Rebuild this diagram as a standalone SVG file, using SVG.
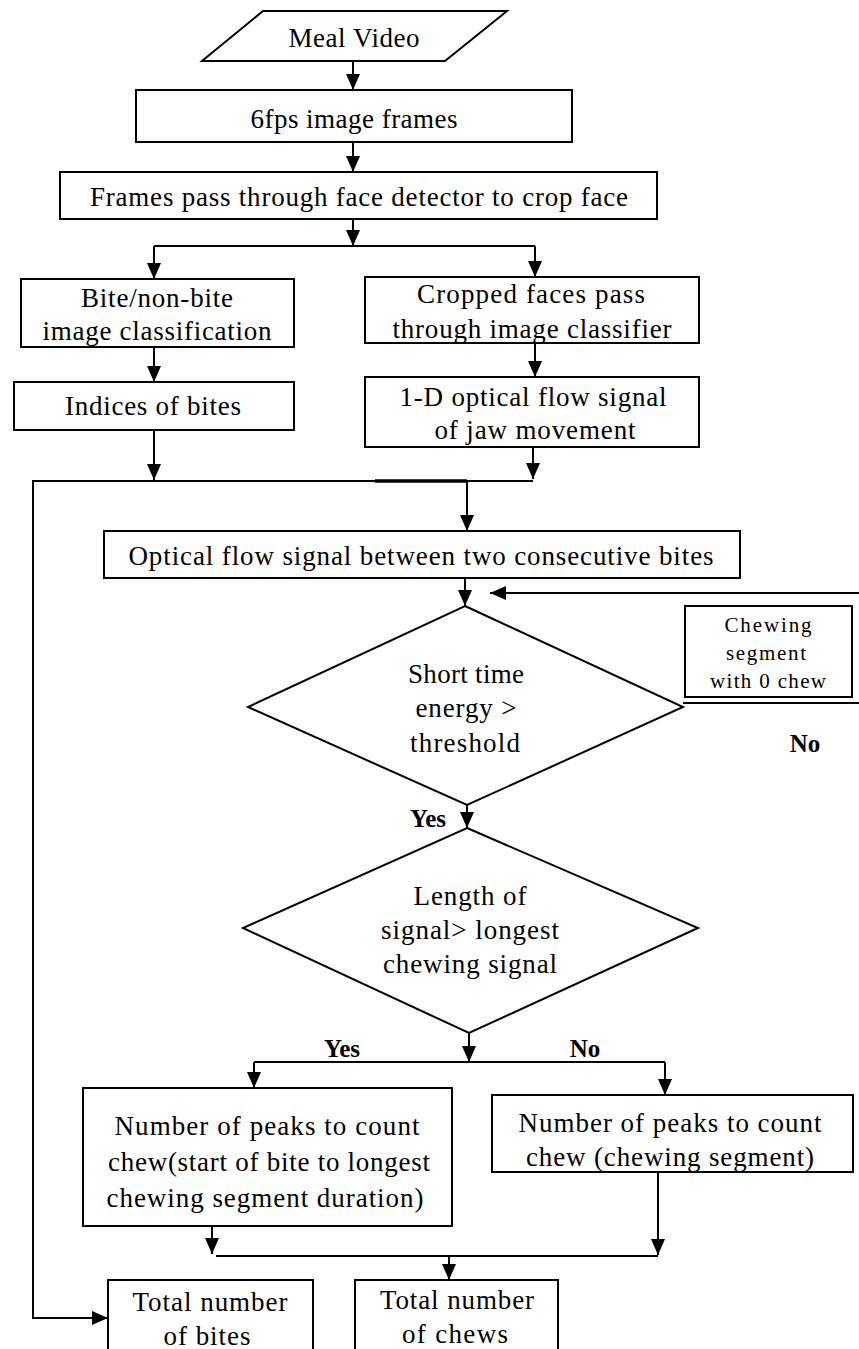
<svg xmlns="http://www.w3.org/2000/svg" width="859" height="1349" viewBox="0 0 859 1349">
<style>
.s{fill:#fff;stroke:#000;stroke-width:2}
.c{fill:none;stroke:#000;stroke-width:2}
.t{font-family:"Liberation Serif","Times New Roman",Tinos,serif;font-size:27px;text-anchor:middle;fill:#000}
.sm{font-size:21px}
.b{font-family:"Liberation Serif","Times New Roman",Tinos,serif;font-size:25px;font-weight:bold;text-anchor:middle;fill:#000}
</style>
<defs>
<marker id="ah" markerUnits="userSpaceOnUse" markerWidth="16" markerHeight="14" refX="16" refY="7" orient="auto">
<path d="M0,0 L16,7 L0,14 z" fill="#000"/>
</marker>
</defs>
<rect width="859" height="1349" fill="#fff"/>

<g id="connectors">
<path class="c" d="M353,61 V90" marker-end="url(#ah)"/>
<path class="c" d="M353,142 V172" marker-end="url(#ah)"/>
<path class="c" d="M353,219 V246" marker-end="url(#ah)"/>
<path class="c" d="M154,246 H535"/>
<path class="c" d="M154,246 V279" marker-end="url(#ah)"/>
<path class="c" d="M535,246 V277" marker-end="url(#ah)"/>
<path class="c" d="M154,347 V382" marker-end="url(#ah)"/>
<path class="c" d="M535,343 V377" marker-end="url(#ah)"/>
<path class="c" d="M154,430 V480" marker-end="url(#ah)"/>
<path class="c" d="M533,447 V479" marker-end="url(#ah)"/>
<path class="c" d="M33,481 H533"/>
<path d="M375,481 H467" stroke="#000" stroke-width="3.5"/>
<path class="c" d="M467,481 V531" marker-end="url(#ah)"/>
<path class="c" d="M465,578 V606" marker-end="url(#ah)"/>
<path class="c" d="M859,593 H490" marker-end="url(#ah)"/>
<path class="c" d="M683,703 H859"/>
<path class="c" d="M467,805 V828" marker-end="url(#ah)"/>
<path class="c" d="M469,1033 V1062" marker-end="url(#ah)"/>
<path class="c" d="M254,1062 H665"/>
<path class="c" d="M254,1062 V1088" marker-end="url(#ah)"/>
<path class="c" d="M665,1062 V1095" marker-end="url(#ah)"/>
<path class="c" d="M212,1226 V1254" marker-end="url(#ah)"/>
<path class="c" d="M658,1172 V1255" marker-end="url(#ah)"/>
<path class="c" d="M216,1256 H658"/>
<path class="c" d="M449,1256 V1280" marker-end="url(#ah)"/>
<path class="c" d="M33,480 V1318 H108" marker-end="url(#ah)"/>
</g>

<g id="meal-video">
<polygon class="s" points="263,11 507,11 445,61 202,61"/>
<text class="t" x="354" y="47" textLength="131" lengthAdjust="spacing">Meal Video</text>
</g>

<g id="frames6fps">
<rect class="s" x="136" y="90" width="436" height="52"/>
<text class="t" x="354" y="128" textLength="207" lengthAdjust="spacing">6fps image  frames</text>
</g>

<g id="face-detector">
<rect class="s" x="60" y="172" width="597" height="47"/>
<text class="t" x="359" y="206" textLength="538" lengthAdjust="spacing">Frames  pass through face detector to crop face</text>
</g>

<g id="bite-classification">
<rect class="s" x="21" y="279" width="273" height="68"/>
<text class="t" x="157" y="307" textLength="152" lengthAdjust="spacing">Bite/non-bite</text>
<text class="t" x="157" y="340" textLength="229" lengthAdjust="spacing">image  classification</text>
</g>

<g id="indices-bites">
<rect class="s" x="14" y="382" width="280" height="48"/>
<text class="t" x="153" y="415" textLength="176" lengthAdjust="spacing">Indices of bites</text>
</g>

<g id="cropped-faces">
<rect class="s" x="365" y="277" width="334" height="66"/>
<text class="t" x="531" y="303" textLength="228" lengthAdjust="spacing">Cropped faces pass</text>
<text class="t" x="532" y="338" textLength="279" lengthAdjust="spacing">through image  classifier</text>
</g>

<g id="optical-flow-1d">
<rect class="s" x="365" y="377" width="334" height="70"/>
<text class="t" x="533" y="406" textLength="267" lengthAdjust="spacing">1-D optical flow  signal</text>
<text class="t" x="535" y="439" textLength="201" lengthAdjust="spacing">of jaw movement</text>
</g>

<g id="optical-flow-between">
<rect class="s" x="104" y="531" width="636" height="47"/>
<text class="t" x="421" y="565" textLength="585" lengthAdjust="spacing">Optical flow  signal between two consecutive bites</text>
</g>

<g id="energy-decision">
<polygon class="s" points="465,606 683,707 467,805 248,707"/>
<text class="t" x="466" y="683" textLength="116" lengthAdjust="spacing">Short time</text>
<text class="t" x="466" y="717" textLength="101" lengthAdjust="spacing">energy &gt;</text>
<text class="t" x="465" y="752" textLength="110" lengthAdjust="spacing">threshold</text>
</g>

<g id="zero-chew">
<rect class="s" x="685" y="606" width="167" height="91"/>
<text class="t sm" x="768" y="632" textLength="87" lengthAdjust="spacing">Chewing</text>
<text class="t sm" x="766" y="660" textLength="80" lengthAdjust="spacing">segment</text>
<text class="t sm" x="768" y="688" textLength="116" lengthAdjust="spacing">with 0 chew</text>
</g>

<g id="labels">
<text class="b" x="805" y="752">No</text>
<text class="b" x="428" y="827">Yes</text>
<text class="b" x="342" y="1057">Yes</text>
<text class="b" x="585" y="1057">No</text>
</g>

<g id="length-decision">
<polygon class="s" points="467,828 698,928 469,1033 243,928"/>
<text class="t" x="470" y="905" textLength="113" lengthAdjust="spacing">Length of</text>
<text class="t" x="470" y="939" textLength="178" lengthAdjust="spacing">signal&gt; longest</text>
<text class="t" x="470" y="973" textLength="174" lengthAdjust="spacing">chewing signal</text>
</g>

<g id="peaks-longest">
<rect class="s" x="83" y="1088" width="369" height="138"/>
<text class="t" x="267" y="1135" textLength="305" lengthAdjust="spacing">Number of peaks to count</text>
<text class="t" x="269" y="1171" textLength="322" lengthAdjust="spacing">chew(start of bite to longest</text>
<text class="t" x="265" y="1207" textLength="317" lengthAdjust="spacing">chewing segment duration)</text>
</g>

<g id="peaks-segment">
<rect class="s" x="492" y="1095" width="361" height="77"/>
<text class="t" x="670" y="1132" textLength="303" lengthAdjust="spacing">Number of peaks to count</text>
<text class="t" x="670" y="1166" textLength="288" lengthAdjust="spacing">chew (chewing segment)</text>
</g>

<g id="total-bites">
<rect class="s" x="108" y="1280" width="205" height="75"/>
<text class="t" x="210" y="1311" textLength="155" lengthAdjust="spacing">Total number</text>
<text class="t" x="207" y="1345" textLength="87" lengthAdjust="spacing">of bites</text>
</g>

<g id="total-chews">
<rect class="s" x="355" y="1280" width="203" height="75"/>
<text class="t" x="457" y="1309" textLength="154" lengthAdjust="spacing">Total number</text>
<text class="t" x="455" y="1343" textLength="106" lengthAdjust="spacing">of chews</text>
</g>
</svg>
